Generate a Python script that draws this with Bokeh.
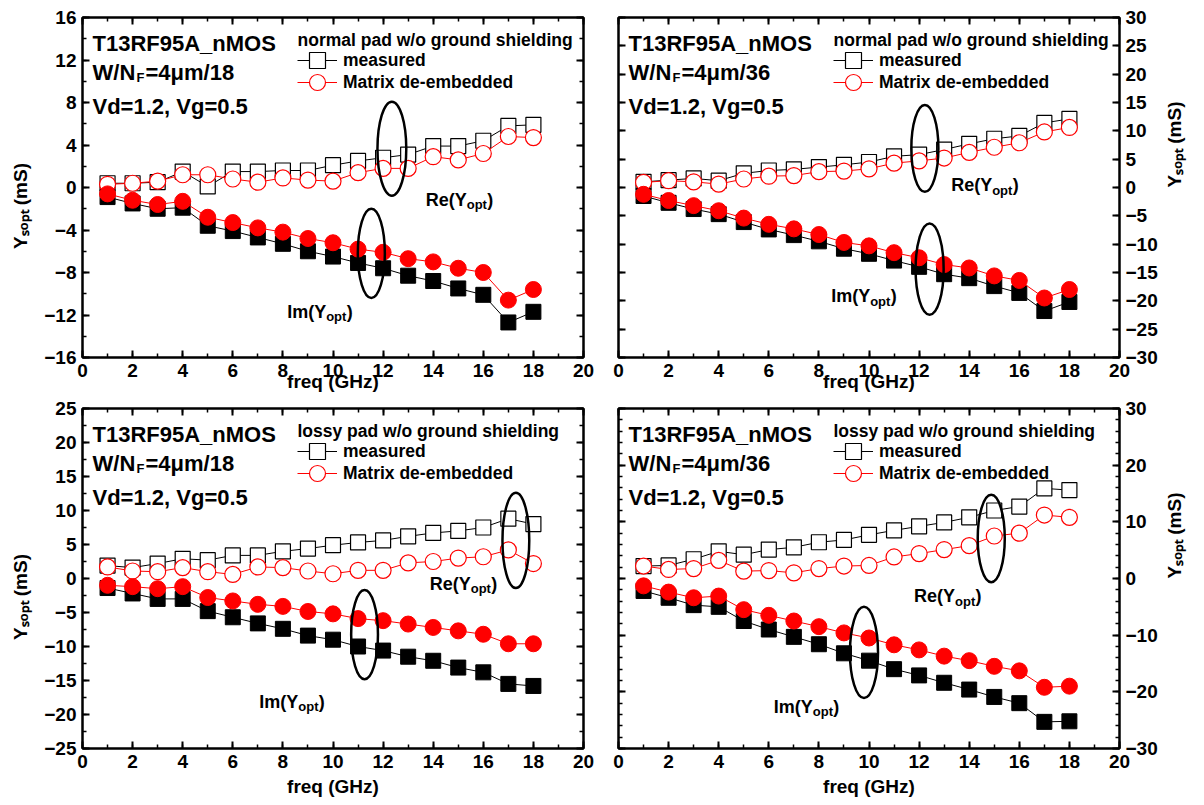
import math
from bokeh.plotting import figure
from bokeh.models import (Label, Legend, LegendItem, LinearAxis, SingleIntervalTicker, Range1d,
                          CustomJSTickFormatter)
from bokeh.layouts import column, row
from bokeh.embed import file_html
from bokeh.resources import INLINE

FONT = "Liberation Sans"

# ---------------- data ----------------
freq = list(range(1, 19))

# panel 1 : normal pad, W/NF = 4um/18
meas_re1 = [0.4, 0.4, 0.5, 1.5, 0.1, 1.5, 1.5, 1.6, 1.6, 2.1, 2.5, 2.8, 3.1, 3.9, 3.9, 4.4, 5.8, 5.9]
deemb_re1 = [0.3, 0.4, 0.6, 1.2, 1.2, 0.8, 0.5, 0.9, 0.7, 0.6, 1.4, 1.8, 1.8, 2.9, 2.6, 3.2, 4.8, 4.7]
meas_im1 = [-0.9, -1.5, -2.0, -1.9, -3.6, -4.1, -4.7, -5.3, -6.0, -6.5, -7.1, -7.6, -8.3, -8.8, -9.5, -10.1, -12.7, -11.7]
deemb_im1 = [-0.6, -1.2, -1.6, -1.3, -2.8, -3.3, -3.8, -4.2, -4.8, -5.2, -5.8, -6.1, -6.7, -7.0, -7.6, -8.0, -10.6, -9.6]

# panel 2 : normal pad, W/NF = 4um/36
meas_re2 = [1.0, 1.3, 1.6, 1.2, 2.5, 3.0, 3.2, 3.6, 4.0, 4.5, 5.5, 5.8, 6.7, 7.7, 8.6, 9.1, 11.4, 12.1]
deemb_re2 = [0.9, 1.2, 1.0, 0.6, 1.5, 2.0, 2.1, 2.8, 2.9, 3.3, 4.3, 4.7, 5.2, 6.2, 7.1, 7.9, 9.8, 10.6]
meas_im2 = [-1.5, -2.7, -3.8, -4.7, -6.1, -7.4, -8.4, -9.5, -10.8, -11.7, -12.9, -14.0, -15.3, -16.0, -17.4, -18.6, -21.8, -20.2]
deemb_im2 = [-1.2, -2.3, -3.2, -4.1, -5.4, -6.5, -7.3, -8.3, -9.7, -10.3, -11.5, -12.4, -13.6, -14.2, -15.6, -16.4, -19.5, -18.0]

# panel 3 : lossy pad, W/NF = 4um/18
meas_re3 = [1.9, 1.6, 2.2, 2.9, 2.7, 3.4, 3.4, 4.0, 4.4, 4.9, 5.3, 5.6, 6.2, 6.7, 7.0, 7.5, 8.8, 8.0]
deemb_re3 = [1.7, 1.1, 1.0, 1.6, 1.0, 0.6, 1.7, 1.6, 1.1, 0.7, 1.2, 1.2, 2.3, 2.5, 3.0, 3.2, 4.2, 2.2]
meas_im3 = [-1.4, -2.2, -3.0, -3.0, -4.8, -5.7, -6.6, -7.4, -8.4, -9.0, -10.0, -10.6, -11.5, -12.1, -13.1, -13.8, -15.5, -15.8]
deemb_im3 = [-1.0, -1.2, -1.5, -1.2, -2.8, -3.3, -3.8, -4.1, -4.85, -5.2, -5.9, -6.2, -6.7, -7.2, -7.7, -8.2, -9.6, -9.6]

# panel 4 : lossy pad, W/NF = 4um/36
meas_re4 = [2.2, 2.3, 3.4, 4.8, 4.2, 5.1, 5.5, 6.4, 6.8, 7.7, 8.5, 9.2, 9.9, 10.8, 12.0, 12.7, 15.9, 15.6]
deemb_re4 = [2.2, 1.6, 1.75, 3.2, 1.3, 1.4, 1.0, 1.75, 2.2, 2.3, 3.8, 4.4, 5.1, 5.8, 7.5, 8.0, 11.2, 10.8]
meas_im4 = [-2.2, -3.4, -4.7, -5.0, -7.5, -9.0, -10.3, -11.6, -13.2, -14.5, -16.0, -17.1, -18.4, -19.6, -20.9, -22.0, -25.3, -25.2]
deemb_im4 = [-1.3, -2.4, -3.4, -3.1, -5.5, -6.5, -7.5, -8.5, -9.6, -10.5, -11.7, -12.6, -13.7, -14.5, -15.5, -16.3, -19.2, -19.0]

# ellipse markers (x, y, width, height) for Re and Im groups
ell_re = [(12.35, 3.65, 1.15, 8.85), (12.23, 6.9, 1.08, 15.3), (17.3, 5.6, 1.07, 14.0), (14.88, 7.06, 1.08, 15.4)]
ell_im = [(11.53, -6.2, 1.08, 8.4), (12.42, -14.4, 1.12, 16.1), (11.26, -8.25, 1.07, 13.1), (9.8, -13.05, 1.12, 16.1)]

# annotation anchors (left x, baseline y)
re_txt = [(13.7, -1.15), (13.28, 0.4), (13.86, -0.78), (11.8, -3.1)]
im_txt = [(8.17, -11.7), (8.49, -19.2), (7.06, -18.1), (6.2, -22.6)]

titles = ["normal pad w/o ground shielding", "normal pad w/o ground shielding",
          "lossy pad w/o ground shielding", "lossy pad w/o ground shielding"]
nf_text = ["=4\u03bcm/18", "=4\u03bcm/36", "=4\u03bcm/18", "=4\u03bcm/36"]
y_ranges = [(-16, 16), (-30, 30), (-25, 25), (-30, 30)]
y_ticks = [(4, 2), (5, 1), (5, 2), (10, 5)]
x_title = "freq (GHz)"
y_title = "Y\u209b\u2092\u209a\u209c (mS)"


def style_axis(ax, interval, minor, labels=True):
    ax.ticker = SingleIntervalTicker(interval=interval, num_minor_ticks=minor)
    ax.axis_line_width = 2
    ax.axis_line_color = "black"
    ax.major_tick_in = 7
    ax.major_tick_out = 0
    ax.minor_tick_in = 4
    ax.minor_tick_out = 0
    ax.major_tick_line_width = 2
    ax.minor_tick_line_width = 1.5
    ax.major_label_text_font = FONT
    ax.major_label_text_color = "black"
    if labels:
        ax.major_label_text_font_size = "19px"
        ax.major_label_standoff = 6
    else:
        # mirror axis: ticks only, no tick labels
        ax.formatter = CustomJSTickFormatter(code="return ''")
        ax.major_label_text_font_size = "1px"
        ax.major_label_standoff = 0
    ax.major_label_text_font_style = "bold"
    ax.axis_label_text_font = FONT
    ax.axis_label_text_font_style = "bold"
    ax.axis_label_text_font_size = "19px"
    ax.axis_label_text_color = "black"


def txt(p, x, y, text, size, xo=0, yo=0, angle=0, align="left"):
    p.add_layout(Label(x=x, y=y, x_offset=xo, y_offset=yo, text=text, text_font=FONT,
                       text_font_size=size, text_font_style="bold", angle=angle,
                       text_align=align, text_baseline="alphabetic", text_color="black"))


def make_panel(i, width, height, borders, yright, series, xlab_standoff):
    ymin, ymax = y_ranges[i]
    bl, br, bt, bb = borders
    p = figure(width=width, height=height, x_range=Range1d(0, 20), y_range=Range1d(ymin, ymax),
               output_backend="svg", toolbar_location=None, x_axis_location=None,
               y_axis_location=None, min_border_left=bl, min_border_right=br,
               min_border_top=bt, min_border_bottom=bb)
    p.xgrid.visible = False
    p.ygrid.visible = False
    p.outline_line_color = "black"
    p.outline_line_width = 2
    p.background_fill_color = "white"
    p.border_fill_color = "white"

    xb = LinearAxis(); style_axis(xb, 2, 2, True)
    xb.axis_label = x_title
    xb.axis_label_standoff = xlab_standoff
    p.add_layout(xb, "below")
    xt = LinearAxis(); style_axis(xt, 2, 2, False); p.add_layout(xt, "above")
    yl = LinearAxis(); style_axis(yl, y_ticks[i][0], y_ticks[i][1], not yright)
    yr = LinearAxis(); style_axis(yr, y_ticks[i][0], y_ticks[i][1], yright)
    lab_ax = yr if yright else yl
    lab_ax.axis_label = y_title + "\u00a0" * 7
    lab_ax.axis_label_standoff = 14 if yright else 10
    if yright:
        try:
            yr.axis_label_orientation = math.pi / 2
        except Exception:
            pass
    p.add_layout(yl, "left")
    p.add_layout(yr, "right")

    m_re, d_re, m_im, d_im = series
    l1 = p.line(freq, m_re, line_color="black", line_width=1)
    s1 = p.scatter(freq, m_re, marker="square", size=15, fill_color="white", line_color="black", line_width=1.2)
    l2 = p.line(freq, d_re, line_color="red", line_width=1)
    s2 = p.scatter(freq, d_re, marker="circle", size=16, fill_color="white", line_color="red", line_width=1.2)
    p.line(freq, m_im, line_color="black", line_width=1)
    p.scatter(freq, m_im, marker="square", size=15, fill_color="black", line_color="black")
    p.line(freq, d_im, line_color="red", line_width=1)
    p.scatter(freq, d_im, marker="circle", size=16, fill_color="red", line_color="red")

    for e in (ell_re[i], ell_im[i]):
        p.ellipse(x=[e[0]], y=[e[1]], width=[e[2]], height=[e[3]], fill_color=None,
                  line_color="black", line_width=2.5)

    # Re / Im annotations
    rx, ry = re_txt[i]
    txt(p, rx, ry, "Re(Y", "18px")
    txt(p, rx, ry, "opt", "13px", xo=41, yo=-5)
    txt(p, rx, ry, ")", "18px", xo=61.5)
    ix, iy = im_txt[i]
    txt(p, ix, iy, "Im(Y", "18px")
    txt(p, ix, iy, "opt", "13px", xo=39, yo=-5)
    txt(p, ix, iy, ")", "18px", xo=59.5)

    # header text
    txt(p, 0, ymax, "T13RF95A_nMOS", "22px", xo=10, yo=-26)
    txt(p, 0, ymax, "W/N", "22px", xo=10, yo=-55)
    txt(p, 0, ymax, "F", "13px", xo=54, yo=-60)
    txt(p, 0, ymax, nf_text[i], "22px", xo=63, yo=-55)
    txt(p, 0, ymax, "Vd=1.2, Vg=0.5", "22px", xo=10, yo=-89)

    # legend: title + two entries
    txt(p, 0, ymax, titles[i], "17.5px", xo=215, yo=-22)
    for item, ypos in ((LegendItem(label="measured", renderers=[l1, s1]), 277),
                       (LegendItem(label="Matrix de-embedded", renderers=[l2, s2]), 255)):
        leg = Legend(items=[item], location=(215, ypos), margin=0, padding=0,
                     glyph_width=40, glyph_height=40, label_height=20, spacing=0,
                     label_standoff=6, background_fill_alpha=0, border_line_color=None,
                     label_text_font=FONT, label_text_font_style="bold",
                     label_text_font_size="17.5px", label_text_color="black")
        p.add_layout(leg, "center")
    return p


p1 = make_panel(0, 600, 397, (82, 17, 17, 40), False, (meas_re1, deemb_re1, meas_im1, deemb_im1), -9)
p2 = make_panel(1, 604, 397, (18, 85, 17, 40), True, (meas_re2, deemb_re2, meas_im2, deemb_im2), -9)
p3 = make_panel(2, 600, 408, (82, 17, 11, 57), False, (meas_re3, deemb_re3, meas_im3, deemb_im3), 5)
p4 = make_panel(3, 604, 408, (18, 85, 11, 57), True, (meas_re4, deemb_re4, meas_im4, deemb_im4), 5)

layout = column(row(p1, p2), row(p3, p4))
open("out.html", "w").write(file_html(layout, INLINE))
